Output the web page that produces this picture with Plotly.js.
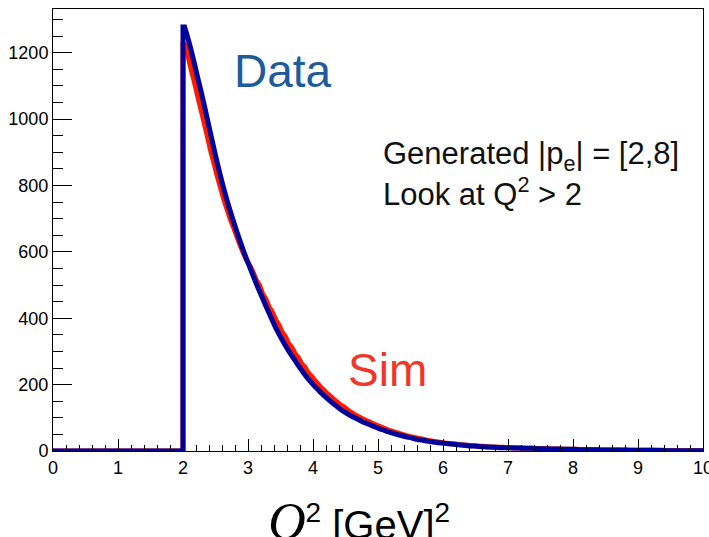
<!DOCTYPE html>
<html>
<head>
<meta charset="utf-8">
<script src="https://cdn.plot.ly/plotly-3.0.1.min.js"></script>
<style>html,body{margin:0;padding:0;background:#fff;}#chart{width:709px;height:537px;}</style>
</head>
<body>
<div id="chart"></div>
<script>
// Histogram binning (Q^2 in GeV^2)
var histStart = 0;
var binStart = 2.0;
var binWidth = 0.05;
var histEnd = 10;

// Data (blue) counts per 0.05 bin from Q^2 = 2.00 to 10.00
var dataCounts = [
  1278,1245,1208,1168,1126,1086,1044,1000,956,912,870,830,792,757,724,693,663,634,606,580,
  555,530,505,482,460,437,415,393,372,353,335,318,302,287,272,257,243,230,217,206,
  195,185,175,166,157,149,141,133,125,119,113,107,102,97,92,87,83,79,75,71,
  67,64,60,57,54,51,48,46,43,41,39,36,34,33,31,29,28,26,25,24,
  23,22,21,20,19,18,17,16,15,15,14,13,13,12,12,11,11,10,10,10,
  10,9,9,9,8,8,8,8,7,7,7,7,6,6,6,6,5,5,5,5,
  5,4,4,4,4,4,4,4,3,3,3,3,3,3,3,3,3,2,2,2,
  2,2,2,2,2,2,2,2,1,1,1,1,1,1,1,1,1,1,1,1
];

// Sim (red) counts per 0.05 bin from Q^2 = 2.00 to 10.00
var simCounts = [
  1225,1192,1150,1112,1070,1030,990,948,905,868,830,795,760,730,700,675,648,622,598,576,
  560,540,516,500,474,458,434,418,396,380,358,345,324,312,293,281,263,253,236,226,
  213,203,191,182,172,164,155,147,139,133,125,118,112,106,101,96,91,87,82,78,
  74,70,66,62,59,56,53,50,47,45,42,40,38,36,34,32,30,29,27,26,
  24,23,22,21,20,19,18,17,16,16,15,14,14,13,12,12,11,11,11,10,
  10,10,9,9,9,8,8,8,8,7,7,7,7,6,6,6,6,5,5,5,
  5,5,4,4,4,4,4,4,3,3,3,3,3,3,3,2,2,2,2,2,
  2,2,2,2,2,2,1,1,1,1,1,1,1,1,1,1,1,1,1,1
];

var yRange = [0, 1332];
var xTickVals = [0,1,2,3,4,5,6,7,8,9,10];
var yTickVals = [0,200,400,600,800,1000,1200];

// Outline of the histogram: zero below the first filled bin, then bin centres
function outlineXY(counts) {
  var xs = [histStart, binStart, binStart], ys = [0, 0, counts[0]];
  for (var i = 0; i < counts.length; i++) {
    xs.push(binStart + (i + 0.5) * binWidth);
    ys.push(counts[i]);
  }
  xs.push(histEnd);
  ys.push(counts[counts.length - 1]);
  return {x: xs, y: ys};
}

var sim = outlineXY(simCounts);
var dat = outlineXY(dataCounts);

var traces = [
  {x: sim.x, y: sim.y, type: 'scatter', mode: 'lines', line: {shape: 'linear', simplify: false, color: '#ff1a00', width: 5}, name: 'Sim', hoverinfo: 'skip'},
  {x: dat.x, y: dat.y, type: 'scatter', mode: 'lines', line: {shape: 'linear', simplify: false, color: '#00009c', width: 5}, name: 'Data', hoverinfo: 'skip'}
];

var tickFont = {family: 'Liberation Sans, Arial, sans-serif', size: 18, color: '#000'};

var layout = {
  width: 709, height: 537,
  margin: {l: 53, r: 6, t: 9, b: 86},
  paper_bgcolor: '#fff', plot_bgcolor: '#fff',
  showlegend: false,
  xaxis: {
    range: [0, 10], tickmode: 'array', tickvals: xTickVals, ticktext: xTickVals.map(String),
    ticks: 'inside', ticklen: 12, tickwidth: 1, tickcolor: '#000',
    minor: {dtick: 0.2, ticks: 'inside', ticklen: 6, tickwidth: 1, tickcolor: '#000'},
    showline: true, linecolor: '#000', linewidth: 1, mirror: true,
    showgrid: false, zeroline: false, tickfont: tickFont, ticklabeloverflow: 'allow'
  },
  yaxis: {
    range: yRange, tickmode: 'array', tickvals: yTickVals, ticktext: yTickVals.map(String),
    ticks: 'inside', ticklen: 19, tickwidth: 1, tickcolor: '#000',
    minor: {dtick: 50, ticks: 'inside', ticklen: 10, tickwidth: 1, tickcolor: '#000'},
    showline: true, linecolor: '#000', linewidth: 1, mirror: true,
    showgrid: false, zeroline: false, tickfont: tickFont, ticklabeloverflow: 'allow'
  },
  annotations: [
    {x: 3.54, y: 1146, xref: 'x', yref: 'y', text: 'Data', showarrow: false,
     font: {family: 'Liberation Sans, Arial, sans-serif', size: 46, color: '#1d5c9c'}, xanchor: 'center', yanchor: 'middle'},
    {x: 5.15, y: 244, xref: 'x', yref: 'y', text: 'Sim', showarrow: false,
     font: {family: 'Liberation Sans, Arial, sans-serif', size: 46, color: '#f2352a'}, xanchor: 'center', yanchor: 'middle'},
    {x: 5.04, y: 889, xref: 'x', yref: 'y', text: 'Generated |p<sub>e</sub>| = [2,8]', showarrow: false,
     font: {family: 'Liberation Sans, Arial, sans-serif', size: 31, color: '#111'}, xanchor: 'left', yanchor: 'middle'},
    {x: 5.04, y: 781, xref: 'x', yref: 'y', text: 'Look at Q<sup>2</sup> > 2', showarrow: false,
     font: {family: 'Liberation Sans, Arial, sans-serif', size: 31, color: '#111'}, xanchor: 'left', yanchor: 'middle'},
    {x: 4.71, y: -0.16, xref: 'x', yref: 'paper', showarrow: false,
     text: '<span style="font-family:Liberation Serif;font-style:italic;font-size:52px">Q</span><sup>2</sup> [GeV]<sup>2</sup>',
     font: {family: 'Liberation Sans, Arial, sans-serif', size: 40, color: '#000'}, xanchor: 'center', yanchor: 'middle'}
  ]
};

Plotly.newPlot('chart', traces, layout, {displayModeBar: false, staticPlot: true});
</script>
</body>
</html>
